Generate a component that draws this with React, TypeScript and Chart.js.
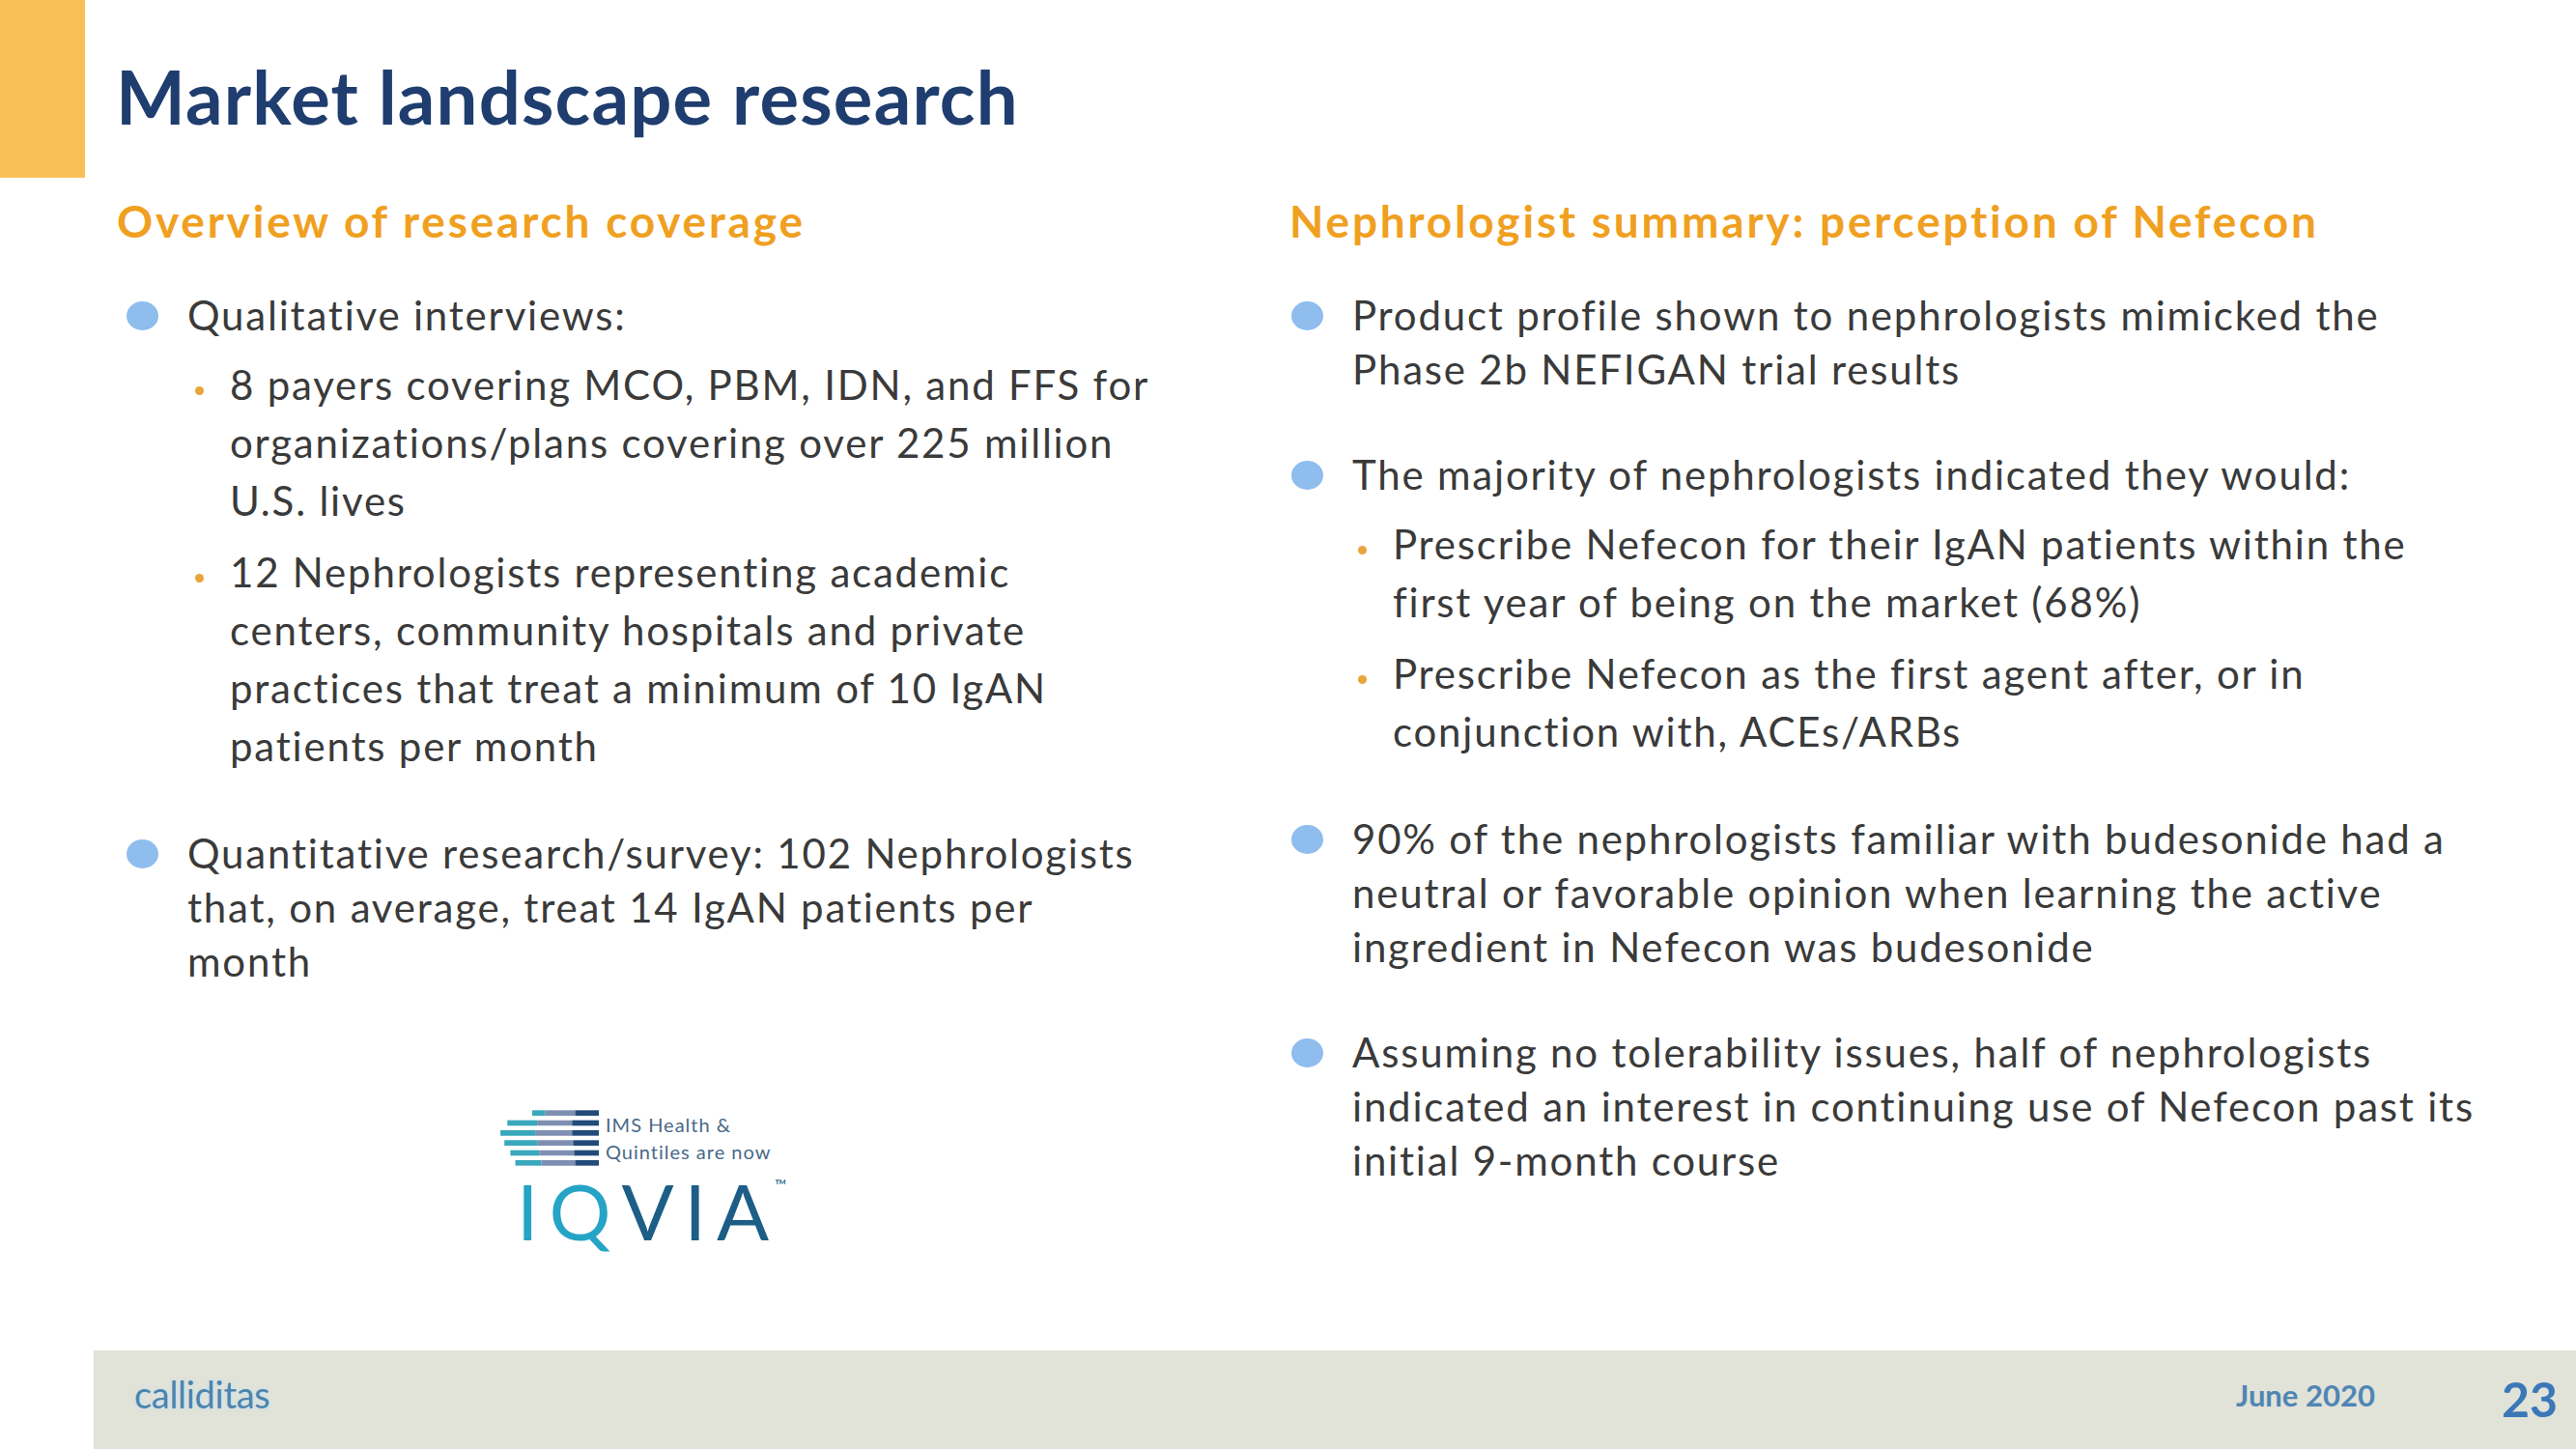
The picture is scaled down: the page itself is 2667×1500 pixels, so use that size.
import React, { useEffect, useRef } from "react";
import { Chart, registerables } from "chart.js";

Chart.register(...registerables);

// ---------- content ----------
const titleText = "Market landscape research";
const leftHeading = "Overview of research coverage";
const rightHeading = "Nephrologist summary: perception of Nefecon";

const leftLevels = [1, 2, 2, 1];
const leftLines = [
  ["Qualitative interviews:"],
  [
    "8 payers covering MCO, PBM, IDN, and FFS for",
    "organizations/plans covering over 225 million",
    "U.S. lives",
  ],
  [
    "12 Nephrologists representing academic",
    "centers, community hospitals and private",
    "practices that treat a minimum of 10 IgAN",
    "patients per month",
  ],
  [
    "Quantitative research/survey: 102 Nephrologists",
    "that, on average, treat 14 IgAN patients per",
    "month",
  ],
];

const rightLevels = [1, 1, 2, 2, 1, 1];
const rightLines = [
  [
    "Product profile shown to nephrologists mimicked the",
    "Phase 2b NEFIGAN trial results",
  ],
  ["The majority of nephrologists indicated they would:"],
  [
    "Prescribe Nefecon for their IgAN patients within the",
    "first year of being on the market (68%)",
  ],
  [
    "Prescribe Nefecon as the first agent after, or in",
    "conjunction with, ACEs/ARBs",
  ],
  [
    "90% of the nephrologists familiar with budesonide had a",
    "neutral or favorable opinion when learning the active",
    "ingredient in Nefecon was budesonide",
  ],
  [
    "Assuming no tolerability issues, half of nephrologists",
    "indicated an interest in continuing use of Nefecon past its",
    "initial 9-month course",
  ],
];

// IQVIA logo stripes (left edge, colour changes, right edge) in logo units
const logoRows = ["s1", "s2", "s3", "s4", "s5", "s6"];
const stripeStart = [35, 10, 3, 7, 13, 18];
const stripeTealEnd = [48, 40, 38, 40, 42, 44];
const stripeGreyEnd = [78, 75, 75, 76, 77, 78];
const stripeEnd = [102, 102, 102, 102, 102, 102];

const logoCaption = ["IMS Health &", "Quintiles are now"];
const logoWordA = "IQ";
const logoWordB = "VI";
const logoWordC = "A";
const trademark = "™";
const footerBrand = "calliditas";
const footerDate = "June 2020";
const pageNumber = "23";

// ---------- styling ----------
const FONT = "Lato, 'Open Sans', 'DejaVu Sans', sans-serif";
const BODY_SIZE = 42;
const BODY_SPACING = 1.8;
const BODY_COLOR = "#3a3a3a";
const L1_LH = 56;
const L2_LH = 60;
const L1_GAP = 53;
const L2_GAP = 14;

function Column({
  levels,
  lines,
  left,
  top,
  l2Indent,
}: {
  levels: number[];
  lines: string[][];
  left: number;
  top: number;
  l2Indent: number;
}) {
  return (
    <div style={{ position: "absolute", left, top, width: 1250 }}>
      {lines.map((ls, i) => {
        const lvl = levels[i];
        const lh = lvl === 1 ? L1_LH : L2_LH;
        const mt = i === 0 ? 0 : lvl === 1 ? L1_GAP : L2_GAP;
        return (
          <div
            key={i}
            style={{
              position: "relative",
              marginTop: mt,
              paddingLeft: lvl === 1 ? 0 : l2Indent,
              fontSize: BODY_SIZE,
              letterSpacing: BODY_SPACING,
              lineHeight: lh + "px",
              color: BODY_COLOR,
              whiteSpace: "nowrap",
            }}
          >
            {lvl === 1 ? (
              <div
                style={{
                  position: "absolute",
                  left: -63,
                  top: 14,
                  width: 33,
                  height: 30,
                  borderRadius: "50%",
                  background: "#8ebdee",
                }}
              />
            ) : (
              <div
                style={{
                  position: "absolute",
                  left: l2Indent - 36,
                  top: 32,
                  width: 9,
                  height: 9,
                  borderRadius: "50%",
                  background: "#e8a53b",
                }}
              />
            )}
            {ls.map((t, j) => (
              <div key={j} style={{ height: lh, overflow: "visible" }}>
                {t}
              </div>
            ))}
          </div>
        );
      })}
    </div>
  );
}

function LogoStripes() {
  const ref = useRef<HTMLCanvasElement>(null);
  useEffect(() => {
    if (!ref.current) return;
    const seg = (a: number[], b: number[]) => logoRows.map((_, i) => [a[i], b[i]]);
    const common = {
      grouped: false,
      barPercentage: 0.55,
      categoryPercentage: 1,
      borderWidth: 0,
    };
    const chart = new Chart(ref.current, {
      type: "bar",
      data: {
        labels: logoRows,
        datasets: [
          { ...common, data: seg(stripeStart, stripeTealEnd) as any, backgroundColor: "#3aa8bc" },
          { ...common, data: seg(stripeTealEnd, stripeGreyEnd) as any, backgroundColor: "#7e8fb2" },
          { ...common, data: seg(stripeGreyEnd, stripeEnd) as any, backgroundColor: "#224b79" },
        ],
      } as any,
      options: {
        indexAxis: "y",
        animation: false,
        responsive: false,
        devicePixelRatio: 1,
        events: [],
        layout: { padding: 0 },
        plugins: { legend: { display: false }, tooltip: { enabled: false } },
        scales: {
          x: { display: false, min: 0, max: 102 },
          y: { display: false },
        },
      } as any,
    });
    return () => chart.destroy();
  }, []);
  return (
    <canvas
      ref={ref}
      width={105}
      height={62}
      style={{ position: "absolute", left: 515, top: 1147, width: 105, height: 62 }}
    />
  );
}

export default function App() {
  const headingStyle = {
    position: "absolute" as const,
    top: 247 - 0.887 * 46,
    fontSize: 46,
    lineHeight: "46px",
    fontWeight: 700,
    letterSpacing: 2.8,
    color: "#f0a020",
    whiteSpace: "nowrap" as const,
  };
  const logoSpan = {
    display: "inline-block" as const,
    height: 60,
    lineHeight: "60px",
    verticalAlign: "top" as const,
  };
  return (
    <div
      style={{
        position: "fixed",
        left: 0,
        top: 0,
        width: 2667,
        height: 1500,
        background: "#ffffff",
        overflow: "hidden",
        fontFamily: FONT,
      }}
    >
      {/* accent block */}
      <div style={{ position: "absolute", left: 0, top: 0, width: 88, height: 184, background: "#fbbf57" }} />

      {/* title */}
      <div
        style={{
          position: "absolute",
          left: 120,
          top: 129 - 0.887 * 76,
          fontSize: 76,
          lineHeight: "76px",
          fontWeight: 700,
          letterSpacing: 1.2,
          color: "#1f3d6f",
          whiteSpace: "nowrap",
        }}
      >
        {titleText}
      </div>

      {/* section headings */}
      <div style={{ ...headingStyle, left: 121 }}>{leftHeading}</div>
      <div style={{ ...headingStyle, left: 1335 }}>{rightHeading}</div>

      <Column levels={leftLevels} lines={leftLines} left={194} top={298} l2Indent={44} />
      <Column levels={rightLevels} lines={rightLines} left={1400} top={298} l2Indent={42} />

      {/* logo */}
      <LogoStripes />
      <div
        style={{
          position: "absolute",
          left: 627,
          top: 1150,
          fontSize: 20,
          lineHeight: "28px",
          color: "#4a6988",
          letterSpacing: 1,
          whiteSpace: "nowrap",
        }}
      >
        {logoCaption.map((c, i) => (
          <div key={i} style={{ height: 28 }}>
            {c}
          </div>
        ))}
      </div>
      <div
        style={{
          position: "absolute",
          left: 535,
          top: 1223,
          height: 60,
          fontSize: 80,
          lineHeight: "60px",
          fontWeight: 400,
          whiteSpace: "nowrap",
        }}
      >
        <span style={{ ...logoSpan, color: "#25a4c6", letterSpacing: 11 }}>{logoWordA}</span>
        <span style={{ ...logoSpan, color: "#1d5e87", letterSpacing: 11 }}>{logoWordB}</span>
        <span style={{ ...logoSpan, color: "#1d5e87" }}>{logoWordC}</span>
        <span
          style={{
            display: "inline-block",
            verticalAlign: "top",
            height: 16,
            lineHeight: "16px",
            marginLeft: 6,
            marginTop: -4,
            fontSize: 16,
            color: "#1d5e87",
          }}
        >
          {trademark}
        </span>
      </div>

      {/* footer */}
      <div style={{ position: "absolute", left: 97, top: 1398, width: 2570, height: 102, background: "#e1e2d8" }} />
      <div
        style={{
          position: "absolute",
          left: 139,
          top: 1458 - 0.887 * 38,
          fontSize: 38,
          lineHeight: "38px",
          color: "#4d84ad",
          textShadow: "0 0 4px #bfe1f6",
          letterSpacing: -0.3,
          whiteSpace: "nowrap",
        }}
      >
        {footerBrand}
      </div>
      <div
        style={{
          position: "absolute",
          left: 2315,
          top: 1456 - 0.887 * 31,
          fontSize: 31,
          lineHeight: "31px",
          fontWeight: 700,
          color: "#4f86b4",
          whiteSpace: "nowrap",
        }}
      >
        {footerDate}
      </div>
      <div
        style={{
          position: "absolute",
          left: 2590,
          top: 1467 - 0.887 * 50,
          fontSize: 50,
          lineHeight: "50px",
          fontWeight: 700,
          color: "#3b78b8",
          whiteSpace: "nowrap",
        }}
      >
        {pageNumber}
      </div>
    </div>
  );
}
